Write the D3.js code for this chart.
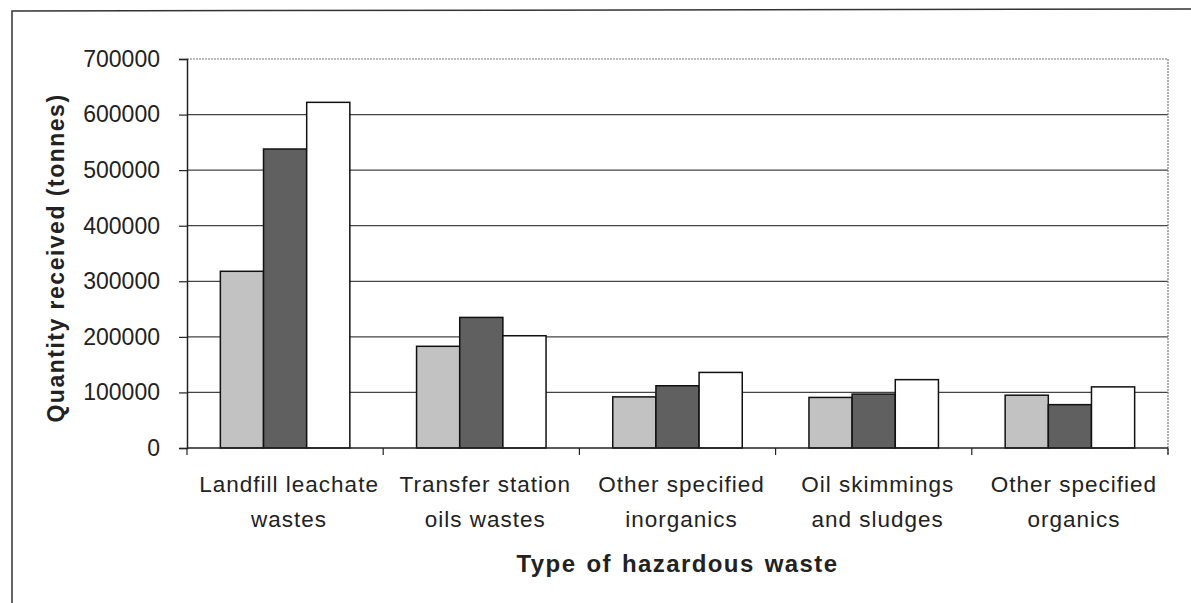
<!DOCTYPE html>
<html>
<head>
<meta charset="utf-8">
<script src="https://cdn.jsdelivr.net/npm/d3@7"></script>
<style>
    body { margin: 0; background: #fff; }
    text { font-family: Arial, "Liberation Sans", sans-serif; fill: #222; }
</style>
</head>
<body>
<svg id="chart" width="1191" height="603"></svg>
<script>
// chart data
const categories = [
    ['Landfill leachate', 'wastes'],
    ['Transfer station', 'oils wastes'],
    ['Other specified', 'inorganics'],
    ['Oil skimmings', 'and sludges'],
    ['Other specified', 'organics']
];
const seriesNames = ['s1', 's2', 's3'];
const seriesA = [318000, 183000, 92000, 91000, 95000];
const seriesB = [538000, 235000, 112000, 97000, 78000];
const seriesC = [622000, 202000, 136000, 123000, 110000];
const yTicks = [0, 100000, 200000, 300000, 400000, 500000, 600000, 700000];
const seriesFill = ['#c2c2c2', '#606060', '#ffffff'];

const svg = d3.select('#chart');

// outer frame (only top and left show)
svg.append('path')
    .attr('d', 'M12,640 L12,11 L1200,9')
    .attr('fill', 'none')
    .attr('stroke', '#333')
    .attr('stroke-width', 1.5);

const plotLeft = 187, plotRight = 1168, plotTop = 59, plotBottom = 448;

const y = d3.scaleLinear().domain([0, 700000]).range([plotBottom, plotTop]);
const x = d3.scaleBand()
    .domain(d3.range(categories.length))
    .range([plotLeft, plotRight])
    .paddingInner(0.34)
    .paddingOuter(0.17);
const xs = d3.scaleBand().domain(seriesNames).range([0, x.bandwidth()]);

// gridlines
svg.append('g')
    .selectAll('line')
    .data(yTicks.filter(d => d > 0))
    .enter()
    .append('line')
    .attr('x1', plotLeft)
    .attr('x2', plotRight)
    .attr('y1', d => y(d))
    .attr('y2', d => y(d))
    .attr('stroke', d => d === 700000 ? '#777' : '#444')
    .attr('stroke-dasharray', d => d === 700000 ? '2,1' : null)
    .attr('stroke-width', 1.2);

// right border of plot area
svg.append('line')
    .attr('x1', plotRight).attr('x2', plotRight)
    .attr('y1', plotTop).attr('y2', plotBottom + 7)
    .attr('stroke', '#777')
    .attr('stroke-dasharray', '2,1')
    .attr('stroke-width', 1.2);

// bars
const rows = categories.map((c, i) => [seriesA[i], seriesB[i], seriesC[i]]);
const groups = svg.append('g')
    .selectAll('g')
    .data(rows)
    .enter()
    .append('g')
    .attr('transform', (d, i) => `translate(${x(i)},0)`);

groups.selectAll('rect')
    .data(d => d)
    .enter()
    .append('rect')
    .attr('x', (d, j) => xs(seriesNames[j]))
    .attr('width', xs.bandwidth())
    .attr('y', d => y(d))
    .attr('height', d => plotBottom - y(d))
    .attr('fill', (d, j) => seriesFill[j])
    .attr('stroke', '#111')
    .attr('stroke-width', 1.5);

// y axis
const yAxis = d3.axisLeft(y)
    .tickValues(yTicks)
    .tickFormat(d3.format('d'))
    .tickSize(8)
    .tickPadding(19);
const gy = svg.append('g')
    .attr('transform', `translate(${plotLeft},0)`)
    .call(yAxis);
gy.select('.domain').attr('stroke', '#222').attr('stroke-width', 1.5);
gy.selectAll('.tick line').attr('stroke', '#222').attr('stroke-width', 1.2);
gy.selectAll('.tick text')
    .attr('font-size', 23)
    .attr('fill', '#222');

// x axis line and ticks between categories
svg.append('line')
    .attr('x1', plotLeft).attr('x2', plotRight)
    .attr('y1', plotBottom).attr('y2', plotBottom)
    .attr('stroke', '#222')
    .attr('stroke-width', 1.5);
svg.append('g')
    .selectAll('line')
    .data(d3.range(categories.length + 1))
    .enter()
    .append('line')
    .attr('x1', i => plotLeft + i * (plotRight - plotLeft) / categories.length)
    .attr('x2', i => plotLeft + i * (plotRight - plotLeft) / categories.length)
    .attr('y1', plotBottom)
    .attr('y2', plotBottom + 7)
    .attr('stroke', '#222')
    .attr('stroke-width', 1.2);

// category labels
const labels = svg.append('g')
    .selectAll('text')
    .data(categories)
    .enter()
    .append('text')
    .attr('x', (d, i) => x(i) + x.bandwidth() / 2 + 4)
    .attr('y', 492)
    .attr('text-anchor', 'middle')
    .attr('font-size', 22.5)
    .attr('letter-spacing', 1);
labels.selectAll('tspan')
    .data(d => d)
    .enter()
    .append('tspan')
    .attr('x', function () { return d3.select(this.parentNode).attr('x'); })
    .attr('dy', (d, i) => i === 0 ? 0 : 35)
    .text(d => d);

// axis titles
svg.append('text')
    .attr('x', (plotLeft + plotRight) / 2)
    .attr('y', 572)
    .attr('text-anchor', 'middle')
    .attr('font-size', 24)
    .attr('font-weight', 'bold')
    .attr('letter-spacing', 1.4)
    .attr('word-spacing', 2)
    .text('Type of hazardous waste');

svg.append('text')
    .attr('transform', `translate(64,258) rotate(-90)`)
    .attr('text-anchor', 'middle')
    .attr('font-size', 23)
    .attr('font-weight', 'bold')
    .attr('letter-spacing', 1.5)
    .text('Quantity received (tonnes)');
</script>
</body>
</html>
